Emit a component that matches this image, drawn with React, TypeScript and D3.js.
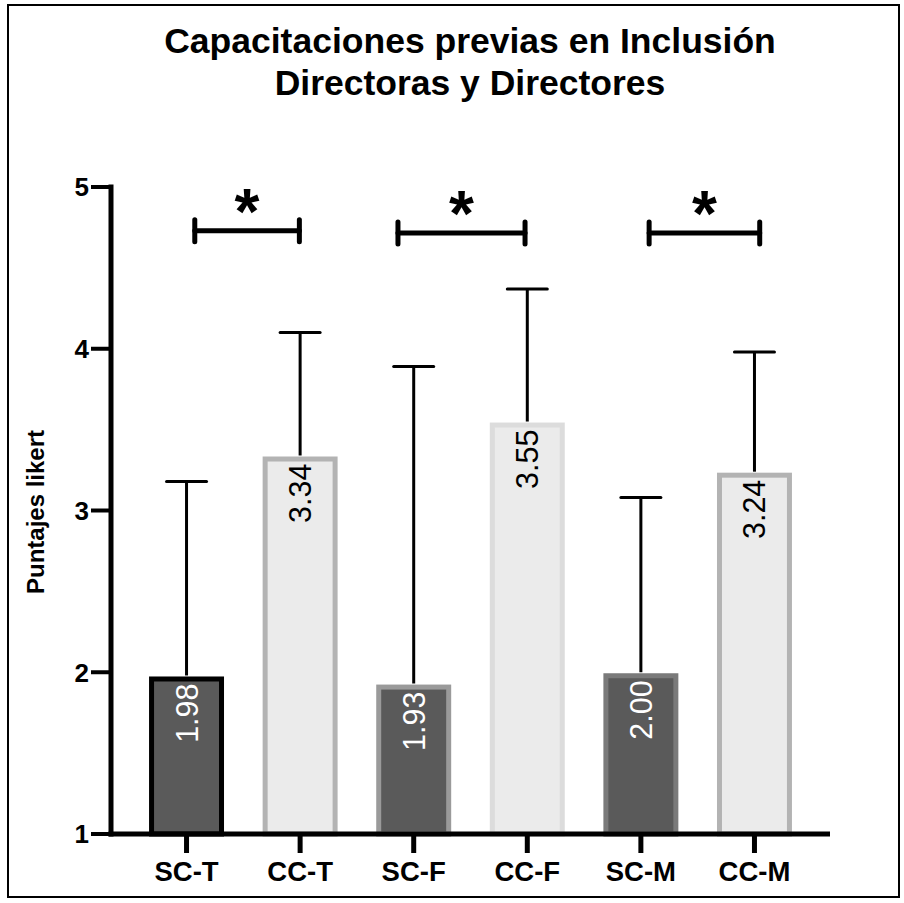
import React from "react";
import * as d3 from "d3";

// Group labels, means and standard deviations
const categories = ["SC-T", "CC-T", "SC-F", "CC-F", "SC-M", "CC-M"];
const means = [1.98, 3.34, 1.93, 3.55, 2.0, 3.24];
const sds = [1.2, 0.76, 1.96, 0.82, 1.08, 0.74];
const fills = ["#5a5a5a", "#ebebeb", "#5a5a5a", "#ebebeb", "#5a5a5a", "#ebebeb"];
const strokes = ["#000000", "#b3b3b3", "#9a9a9a", "#dcdcdc", "#7a7a7a", "#b3b3b3"];
const labelColors = ["#ffffff", "#000000", "#ffffff", "#000000", "#ffffff", "#000000"];
const yTicks = [1, 2, 3, 4, 5];

// Significance comparisons: pair of groups, bracket height, span inside the bands
const bracketFrom = ["SC-T", "SC-F", "SC-M"];
const bracketTo = ["CC-T", "CC-F", "CC-M"];
const bracketLevel = [4.73, 4.715, 4.715];
const bracketStartFrac = [0.61, 0.29, 0.61];
const bracketEndFrac = [0.49, 0.47, 0.57];

const W = 904;
const H = 903;
const FONT = "'Liberation Sans', Arial, Helvetica, sans-serif";

export default function App() {
  const x = d3
    .scaleBand<string>()
    .domain(categories)
    .range([111, 830])
    .paddingInner(0.34)
    .paddingOuter(0.335);
  const y = d3.scaleLinear().domain([1, 5]).range([834, 187]);
  const bw = x.bandwidth();
  const sw = 5;
  const capW = 40;

  return (
    <svg
      width={W}
      height={H}
      style={{ position: "absolute", left: 0, top: 0 }}
      fontFamily={FONT}
    >
      <rect x={0} y={0} width={W} height={H} fill="#fff" />
      <rect x={8} y={5} width={891} height={892} fill="none" stroke="#000" strokeWidth={2} />

      {/* title */}
      <text x={470} y={53} textAnchor="middle" fontSize={35.5} fontWeight="bold">
        Capacitaciones previas en Inclusión
      </text>
      <text x={470} y={95} textAnchor="middle" fontSize={35.5} fontWeight="bold">
        Directoras y Directores
      </text>

      {/* bars with SD whiskers */}
      {categories.map((c, i) => {
        const x0 = x(c)!;
        const cx = x0 + bw / 2;
        const top = y(means[i]);
        const errTop = y(means[i] + sds[i]);
        return (
          <g key={c}>
            <line x1={cx} x2={cx} y1={top} y2={errTop} stroke="#000" strokeWidth={3} />
            <line
              x1={cx - capW / 2}
              x2={cx + capW / 2}
              y1={errTop}
              y2={errTop}
              stroke="#000"
              strokeWidth={3}
              strokeLinecap="round"
            />
            <rect
              x={x0 + sw / 2}
              y={top + sw / 2 + 1}
              width={bw - sw}
              height={y(1) - top - sw / 2 - 1}
              fill={fills[i]}
              stroke={strokes[i]}
              strokeWidth={sw}
            />
            <text
              transform={`translate(${cx},${top + 8}) rotate(-90)`}
              textAnchor="end"
              dy="0.36em"
              fontSize={30.5}
              fill={labelColors[i]}
            >
              {means[i].toFixed(2)}
            </text>
          </g>
        );
      })}

      {/* axes */}
      <line x1={111} x2={111} y1={y(5) - 2.5} y2={y(1) + 2.5} stroke="#000" strokeWidth={5} />
      <line x1={108.5} x2={830} y1={y(1)} y2={y(1)} stroke="#000" strokeWidth={5} />
      {yTicks.map((t) => (
        <g key={t}>
          <line x1={91} x2={111} y1={y(t)} y2={y(t)} stroke="#000" strokeWidth={4} />
          <text
            x={89}
            y={y(t)}
            dy="0.36em"
            textAnchor="end"
            fontSize={26}
            fontWeight="bold"
          >
            {t}
          </text>
        </g>
      ))}
      {categories.map((c) => {
        const cx = x(c)! + bw / 2;
        return (
          <g key={c}>
            <line x1={cx} x2={cx} y1={y(1)} y2={y(1) + 19} stroke="#000" strokeWidth={5} />
            <text x={cx} y={881} textAnchor="middle" fontSize={27.5} fontWeight="bold">
              {c}
            </text>
          </g>
        );
      })}
      <text
        transform={`translate(44,512) rotate(-90)`}
        textAnchor="middle"
        fontSize={24}
        fontWeight="bold"
      >
        Puntajes likert
      </text>

      {/* significance brackets */}
      {bracketFrom.map((from, i) => {
        const x1 = x(from)! + bw * bracketStartFrac[i];
        const x2 = x(bracketTo[i])! + bw * bracketEndFrac[i];
        const by = y(bracketLevel[i]);
        return (
          <g key={from} stroke="#000" strokeWidth={5} strokeLinecap="round">
            <line x1={x1} x2={x2} y1={by} y2={by} />
            <line x1={x1} x2={x1} y1={by - 11} y2={by + 11} />
            <line x1={x2} x2={x2} y1={by - 11} y2={by + 11} />
            <text
              x={(x1 + x2) / 2}
              y={by + 3}
              textAnchor="middle"
              fontSize={64}
              fontWeight="bold"
              stroke="none"
            >
              *
            </text>
          </g>
        );
      })}
    </svg>
  );
}
